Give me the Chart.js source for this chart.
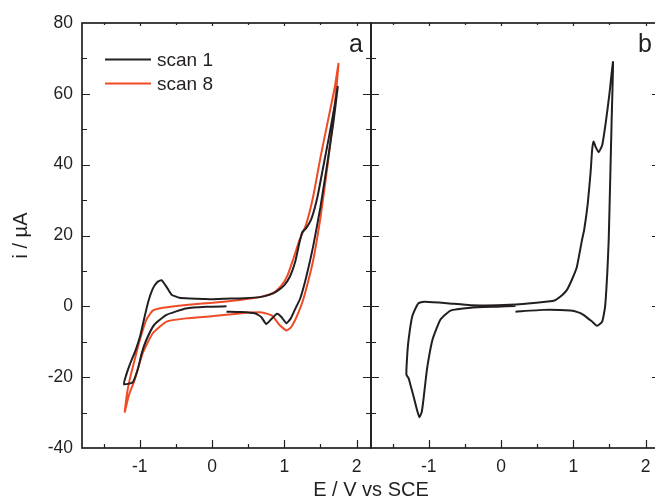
<!DOCTYPE html>
<html><head><meta charset="utf-8">
<script src="https://cdn.jsdelivr.net/npm/chart.js@4.4.1/dist/chart.umd.min.js"></script>
<style>
html,body{margin:0;padding:0;background:#fff;overflow:hidden;}
#wrap{position:relative;width:655px;height:502px;overflow:hidden;background:#fff;}
#wrap canvas{position:absolute;left:0;top:0;}
</style></head><body>
<div id="wrap">
<canvas id="ca" width="662" height="502"></canvas>
<canvas id="cb" width="662" height="502"></canvas>
</div>
<script>
// ---- data ----
const scan1E = [0.20,0.40,0.60,0.68,0.75,0.82,0.90,0.96,1.03,1.09,1.15,1.22,1.30,1.40,1.50,1.60,1.68,1.74,
  1.70,1.62,1.54,1.46,1.38,1.30,1.25,1.21,1.15,1.08,1.00,0.90,0.80,0.66,0.45,0.24,0.00,-0.13,-0.30,-0.45,-0.56,-0.63,-0.70,-0.76,-0.82,-0.88,-0.94,-0.99,-1.06,-1.14,-1.19,-1.22,
  -1.10,-1.03,-0.97,-0.91,-0.80,-0.63,-0.36,-0.08,0.20];
const scan1I = [-1.5,-1.6,-2.0,-3.0,-5.0,-3.6,-2.1,-3.0,-4.8,-3.4,-0.8,2.2,8.0,17.0,28.0,41.0,52.0,62.0,
  57.0,48.0,39.5,31.0,25.0,22.0,21.0,18.0,12.5,8.5,6.0,4.3,3.3,2.6,2.3,2.2,2.0,2.1,2.2,2.4,3.3,5.5,7.4,6.8,5.0,1.5,-3.5,-8.0,-12.5,-16.5,-19.5,-22.0,
  -21.5,-17.9,-13.0,-9.5,-5.2,-2.4,-0.6,-0.1,0.0];
const scan8E = [-1.21,-1.15,-1.07,-0.96,-0.82,-0.63,-0.36,0.00,0.38,0.66,0.78,0.84,0.93,1.03,1.09,1.14,1.20,1.26,1.33,1.40,1.50,1.60,1.70,1.75,
  1.70,1.60,1.50,1.40,1.30,1.21,1.12,1.05,1.00,0.92,0.84,0.66,0.38,0.01,-0.36,-0.68,-0.82,-0.91,-1.00,-1.07,-1.14,-1.18,-1.21];
const scan8I = [-30.0,-25.0,-20.7,-13.2,-7.6,-4.3,-3.4,-2.8,-2.0,-1.7,-2.2,-2.8,-5.2,-6.8,-6.0,-4.3,-1.5,1.8,7.0,13.0,25.0,40.0,57.0,68.5,
  62.0,52.0,42.0,31.0,23.0,18.7,13.1,9.0,7.0,5.0,3.7,2.6,1.8,1.0,0.4,-0.4,-1.2,-3.8,-9.5,-15.0,-20.7,-25.0,-30.0];
const panelBE = [0.20,0.59,0.96,1.07,1.14,1.26,1.33,1.40,1.44,1.47,1.49,1.51,1.53,1.55,
  1.50,1.45,1.40,1.35,1.31,1.28,1.26,1.24,1.20,1.15,1.12,1.05,0.98,0.91,0.80,0.73,0.41,0.04,-0.42,-0.75,-1.05,-1.13,-1.16,-1.23,-1.28,-1.30,-1.31,-1.28,-1.25,-1.21,-1.16,-1.13,-1.10,-1.08,-1.05,-1.02,-0.95,-0.84,-0.70,-0.42,-0.06,0.20];
const panelBI = [-1.5,-1.0,-1.2,-1.7,-2.4,-4.3,-5.5,-4.3,-0.1,9.3,18.7,35.0,52.0,69.0,
  60.0,52.0,45.5,43.5,45.0,46.5,44.0,38.0,29.0,21.5,18.7,11.2,7.5,4.6,2.4,1.6,0.9,0.4,0.3,0.9,1.3,1.0,0.4,-2.9,-9.5,-14.2,-19.3,-20.3,-22.5,-25.5,-29.5,-31.3,-30.0,-27.3,-22.0,-17.0,-9.5,-3.8,-1.2,-0.4,-0.1,0.1];
const seriesNames = ['scan 1','scan 8'];
const xTickLabels = [-1,0,1,2];
const xTickMarks = [-1.5,-1,-0.5,0,0.5,1,1.5,2];
const yTickLabels = [-40,-20,0,20,40,60,80];
const yTickMarks = [-30,-20,-10,0,10,20,30,40,50,60,70];
const panelNames = ['a','b'];

// ---- styles ----
const INK = '#231f20';
const RED = '#ef4b27';
const FONT = "'Liberation Sans', Arial, sans-serif";
const pts = (xs, ys) => xs.map((x, i) => ({x, y: ys[i]}));

const framePlugin = {
  id: 'frame',
  afterDatasetsDraw(chart, args, o) {
    const {ctx, chartArea: {left, right, top, bottom}} = chart;
    const xs = chart.scales.x, ys = chart.scales.y;
    ctx.save();
    ctx.strokeStyle = INK;
    ctx.lineWidth = 1.2;
    ctx.beginPath();
    xTickMarks.forEach(v => {
      const p = Math.round(xs.getPixelForValue(v)) + 0.5;
      const major = Number.isInteger(v);
      ctx.moveTo(p, bottom); ctx.lineTo(p, bottom - (major ? 8 : 4));
      ctx.moveTo(p, top); ctx.lineTo(p, top + (major ? 3 : 2));
    });
    yTickMarks.forEach(v => {
      const p = Math.round(ys.getPixelForValue(v)) + 0.5;
      const major = v % 20 === 0;
      const L = major ? 8 : 5;
      ctx.moveTo(left, p); ctx.lineTo(left + L, p);
      ctx.moveTo(right, p); ctx.lineTo(right - L, p);
    });
    ctx.stroke();
    ctx.lineWidth = 1.7;
    ctx.strokeRect(left, top, right - left, bottom - top);
    // panel letter
    ctx.fillStyle = INK;
    ctx.font = '25px ' + FONT;
    ctx.textAlign = 'right';
    ctx.textBaseline = 'alphabetic';
    ctx.fillText(o.letter, right - 8, top + 29);
    if (o.legend) {
      ctx.font = '19px ' + FONT;
      ctx.textAlign = 'left';
      ctx.textBaseline = 'middle';
      chart.data.datasets.forEach((ds, i) => {
        const y = top + 36.5 + i * 24;
        ctx.strokeStyle = ds.borderColor;
        ctx.lineWidth = 2;
        ctx.beginPath(); ctx.moveTo(left + 23, y); ctx.lineTo(left + 69, y); ctx.stroke();
        ctx.fillStyle = INK;
        ctx.fillText(ds.label, left + 75, y + 1);
      });
    }
    if (o.xtitle) {
      ctx.font = '20px ' + FONT;
      ctx.textAlign = 'center';
      ctx.textBaseline = 'middle';
      ctx.fillStyle = INK;
      ctx.fillText(o.xtitle, right, 490);
    }
    ctx.restore();
  }
};

function xScale() {
  return {
    type: 'linear', min: -1.8, max: 2.2,
    grid: {display: false, drawTicks: false}, border: {display: false},
    afterBuildTicks: ax => { ax.ticks = xTickLabels.map(v => ({value: v})); },
    afterFit: ax => { ax.height = 54; },
    ticks: {color: INK, font: {family: FONT, size: 17.5}, padding: 9, maxRotation: 0, autoSkip: false,
      callback: v => String(v)}
  };
}

const common = {
  responsive: false, animation: false, devicePixelRatio: 1,
  elements: {point: {radius: 0}, line: {borderWidth: 2, tension: 0.15}}
};

new Chart(document.getElementById('ca'), {
  type: 'scatter',
  data: {datasets: [
    {label: seriesNames[0], data: pts(scan1E, scan1I), showLine: true, borderColor: INK, backgroundColor: INK},
    {label: seriesNames[1], data: pts(scan8E, scan8I), showLine: true, borderColor: RED, backgroundColor: RED}
  ]},
  options: Object.assign({}, common, {
    layout: {padding: {left: 0, top: 23, right: 662 - 371, bottom: 0}},
    plugins: {legend: {display: false}, tooltip: {enabled: false},
      frame: {letter: panelNames[0], legend: true, xtitle: 'E / V vs SCE'}},
    scales: {
      x: xScale(),
      y: {type: 'linear', min: -40, max: 80,
        grid: {display: false, drawTicks: false}, border: {display: false},
        afterBuildTicks: ax => { ax.ticks = yTickLabels.map(v => ({value: v})); },
        afterFit: ax => { ax.width = 82; },
        ticks: {color: INK, font: {family: FONT, size: 17.5}, padding: 9, callback: v => String(v)},
        title: {display: true, text: 'i / µA', color: INK, font: {family: FONT, size: 20}, padding: {top: 9, bottom: 0}}
      }
    }
  }),
  plugins: [framePlugin]
});

new Chart(document.getElementById('cb'), {
  type: 'scatter',
  data: {datasets: [
    {label: 'b', data: pts(panelBE, panelBI), showLine: true, borderColor: INK, backgroundColor: INK}
  ]},
  options: Object.assign({}, common, {
    layout: {padding: {left: 371, top: 23, right: 2, bottom: 0}},
    plugins: {legend: {display: false}, tooltip: {enabled: false},
      frame: {letter: panelNames[1], legend: false}},
    scales: {
      x: xScale(),
      y: {type: 'linear', min: -40, max: 80, display: false}
    }
  }),
  plugins: [framePlugin]
});
</script>
</body></html>
